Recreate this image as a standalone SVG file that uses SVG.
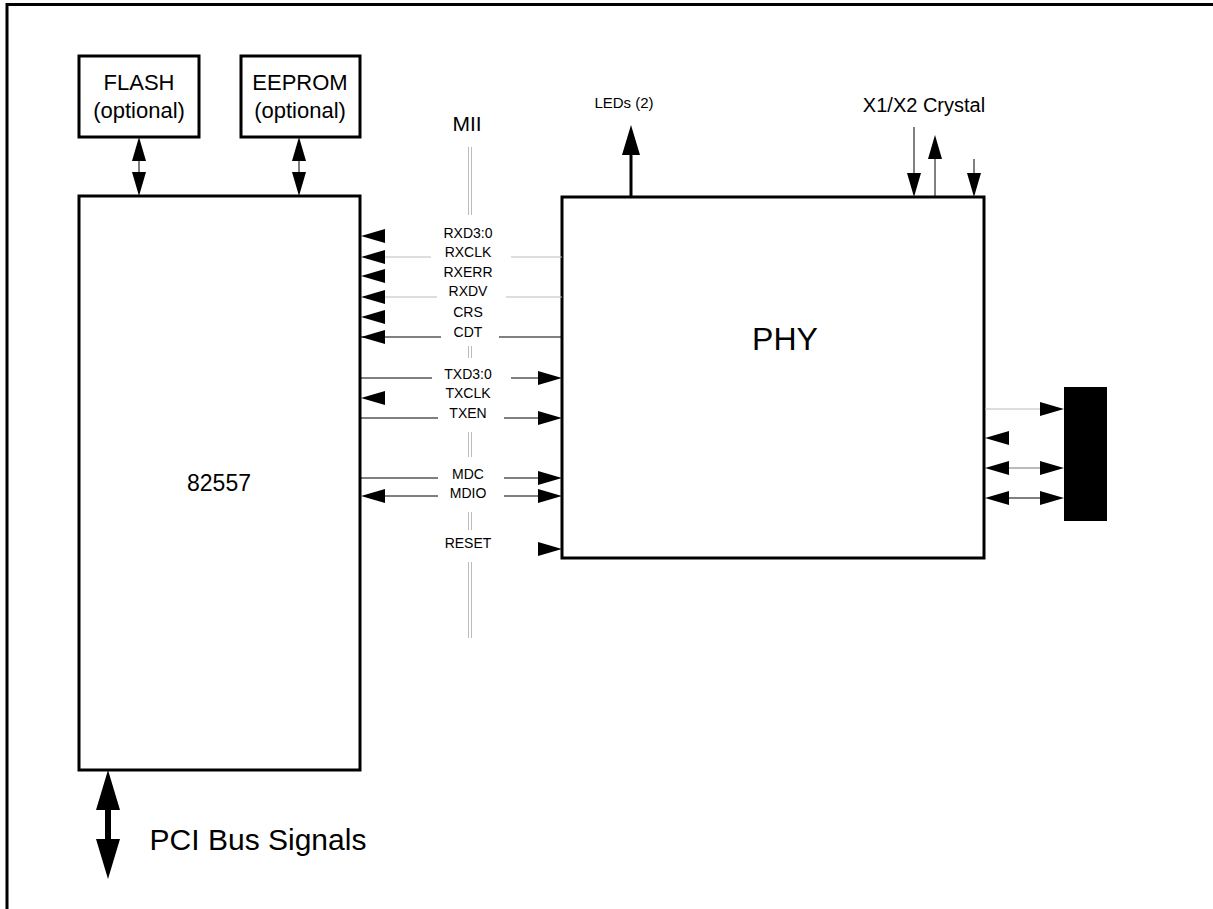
<svg xmlns="http://www.w3.org/2000/svg" xmlns:xlink="http://www.w3.org/1999/xlink" width="1213" height="909" viewBox="0 0 1213 909">
<style>
.box{fill:#fff;stroke:#000;stroke-width:3}
.t{font-family:"Liberation Sans",Arial,sans-serif;fill:#000;text-anchor:middle}
.sig{font-size:14px}
.w{stroke:#000;stroke-width:1;fill:none}
.g{stroke:#bbb;stroke-width:1;fill:none}
.mii{stroke:#bbb;stroke-width:1;fill:none}
</style>
<defs>
<path id="aL" d="M0,0 L24,-7 L24,7 Z" fill="#000"/>
<path id="aR" d="M0,0 L-24,-7 L-24,7 Z" fill="#000"/>
<path id="aU" d="M0,0 L-7,24 L7,24 Z" fill="#000"/>
<path id="aD" d="M0,0 L-7,-24 L7,-24 Z" fill="#000"/>
<path id="aUb" d="M0,0 L-9,30 L9,30 Z" fill="#000"/>
<path id="aP" d="M0,0 L-12,40 L12,40 Z" fill="#000"/>
<path id="aPd" d="M0,0 L-12,-40 L12,-40 Z" fill="#000"/>
</defs>
<rect width="1213" height="909" fill="#fff"/>
<path d="M7,909 V4.5 H1213" fill="none" stroke="#000" stroke-width="3"/>

<g id="flash">
<rect class="box" x="79" y="56" width="120" height="81"/>
<text class="t" x="139" y="90" font-size="22">FLASH</text>
<text class="t" x="139" y="118" font-size="22">(optional)</text>
</g>
<g id="eeprom">
<rect class="box" x="241" y="56" width="119" height="81"/>
<text class="t" x="300" y="90" font-size="22">EEPROM</text>
<text class="t" x="300" y="118" font-size="22">(optional)</text>
</g>
<g id="n82557">
<rect class="box" x="79" y="196" width="281" height="574"/>
<text class="t" x="219" y="491" font-size="23">82557</text>
</g>
<g id="phy">
<rect class="box" x="562" y="197" width="422" height="361"/>
<text class="t" x="785" y="350" font-size="32">PHY</text>
</g>
<g id="connector">
<rect x="1064" y="387" width="43" height="134" fill="#000"/>
</g>
<g id="labels">
<text class="t" x="467" y="131" font-size="21">MII</text>
<text class="t" x="624" y="108" font-size="15">LEDs (2)</text>
<text class="t" x="924" y="112" font-size="20">X1/X2 Crystal</text>
<text class="t" x="258" y="850" font-size="30">PCI Bus Signals</text>
<g class="t sig">
<text x="468" y="238">RXD3:0</text>
<text x="468" y="257">RXCLK</text>
<text x="468" y="277">RXERR</text>
<text x="468" y="296">RXDV</text>
<text x="468" y="317">CRS</text>
<text x="468" y="337">CDT</text>
<text x="468" y="379">TXD3:0</text>
<text x="468" y="398">TXCLK</text>
<text x="468" y="418">TXEN</text>
<text x="468" y="479">MDC</text>
<text x="468" y="498">MDIO</text>
<text x="468" y="548">RESET</text>
</g>
</g>

<g id="connectors">
<!-- MII bus double line -->
<path class="mii" d="M468.5,147 V215 M471.5,147 V215 M468.5,346 V358 M471.5,346 V358 M468.5,432 V457 M471.5,432 V457 M468.5,512 V530 M471.5,512 V530 M468.5,562 V638 M471.5,562 V638"/>
<!-- FLASH / EEPROM -->
<path class="w" d="M139,150 V180 M299,150 V180"/>
<use xlink:href="#aU" x="139" y="137"/><use xlink:href="#aD" x="139" y="196"/>
<use xlink:href="#aU" x="299" y="137"/><use xlink:href="#aD" x="299" y="196"/>
<!-- PCI -->
<path d="M108,800 V850" stroke="#000" stroke-width="6" fill="none"/>
<use xlink:href="#aP" x="108" y="770"/><use xlink:href="#aPd" x="108" y="879"/>
<!-- LEDs -->
<path d="M631,197 V145" stroke="#000" stroke-width="3" fill="none"/>
<use xlink:href="#aUb" x="631" y="125"/>
<!-- Crystal -->
<path class="w" d="M914,127 V180 M935,197 V145 M974,159 V180"/>
<use xlink:href="#aD" x="914" y="197"/>
<use xlink:href="#aU" x="935" y="135"/>
<use xlink:href="#aD" x="974" y="197"/>
<!-- RX side -->
<use xlink:href="#aL" x="361" y="236"/>
<use xlink:href="#aL" x="361" y="257"/>
<path class="g" d="M385,257 H431 M511,257 H562"/>
<use xlink:href="#aL" x="361" y="276"/>
<use xlink:href="#aL" x="361" y="297"/>
<path class="g" d="M385,297 H437 M506,297 H562"/>
<use xlink:href="#aL" x="361" y="317"/>
<use xlink:href="#aL" x="361" y="337"/>
<path class="w" d="M361,337 H441 M499,337 H562"/>
<!-- TX side -->
<path class="w" d="M361,378 H432 M511,378 H540"/>
<use xlink:href="#aR" x="562" y="378"/>
<use xlink:href="#aL" x="361" y="398"/>
<path class="w" d="M361,418 H438 M504,418 H540"/>
<use xlink:href="#aR" x="562" y="418"/>
<path class="w" d="M361,478 H438 M504,478 H540"/>
<use xlink:href="#aR" x="562" y="478"/>
<path class="w" d="M370,496 H438 M504,496 H540"/>
<use xlink:href="#aL" x="361" y="496"/>
<use xlink:href="#aR" x="562" y="496"/>
<use xlink:href="#aR" x="562" y="549"/>
<!-- right side to connector -->
<path class="g" d="M985,409 H1045"/>
<use xlink:href="#aR" x="1064" y="409"/>
<use xlink:href="#aL" x="985" y="438"/>
<path d="M1005,468 H1045" stroke="#777" stroke-width="1" fill="none"/>
<use xlink:href="#aL" x="985" y="468"/><use xlink:href="#aR" x="1064" y="468"/>
<path class="w" d="M1005,498 H1045"/>
<use xlink:href="#aL" x="985" y="498"/><use xlink:href="#aR" x="1064" y="498"/>
</g>
</svg>
